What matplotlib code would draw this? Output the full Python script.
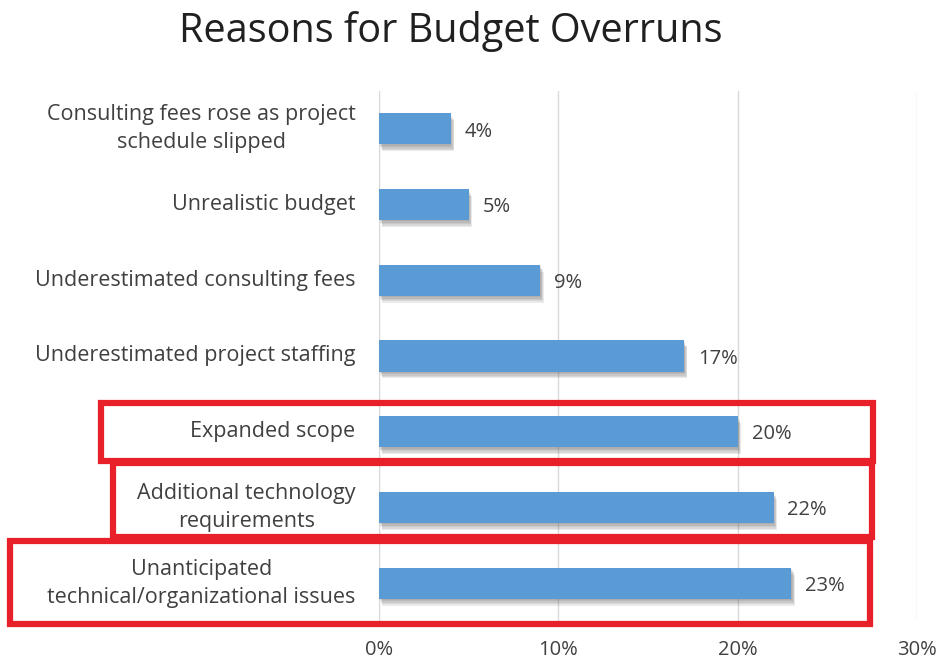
import matplotlib.pyplot as plt
import matplotlib.patheffects as pe
from matplotlib.patches import Rectangle
from matplotlib.ticker import PercentFormatter

plt.rcParams['font.family'] = ['Open Sans', 'DejaVu Sans']

# reasons listed top to bottom, share of projects in percent
reasons = [
    "Consulting fees rose as project\nschedule slipped",
    "Unrealistic budget",
    "Underestimated consulting fees",
    "Underestimated project staffing",
    "Expanded scope",
    "Additional technology\nrequirements",
    "Unanticipated\ntechnical/organizational issues",
]
shares = [4, 5, 9, 17, 20, 22, 23]
x_ticks = [0, 10, 20, 30]

bar_color = '#5B9BD5'
text_color = '#404040'
grid_color = '#D9D9D9'
box_color = '#E8202A'

W, H = 943, 662
fig = plt.figure(figsize=(W / 100, H / 100), dpi=100)
ax = fig.add_axes([379 / W, 1 - 621 / H, (917 - 379) / W, (621 - 91) / H])

ypos = list(range(len(reasons)))
bars = ax.barh(ypos, shares, height=0.41, color=bar_color, zorder=3)
# soft drop shadow built from a few faint offset copies
shadow = [pe.SimplePatchShadow(offset=(dx, -dy), shadow_rgbFace='#606060', alpha=0.13)
          for dx, dy in [(0.5, 1), (1, 2), (1.5, 3), (2, 4), (2.5, 5)]]
for b in bars:
    b.set_path_effects(shadow + [pe.Normal()])

for y, v in zip(ypos, shares):
    ax.annotate(f"{v}%", (v, y), xytext=(10, -2), textcoords='offset points',
                va='center', ha='left', fontsize=14.5, color=text_color)

ax.set_xlim(0, 30)
ax.set_ylim(len(reasons) - 0.5, -0.5)
ax.set_xticks(x_ticks)
ax.xaxis.set_major_formatter(PercentFormatter(decimals=0))
ax.set_yticks(ypos)
ax.set_yticklabels(reasons, fontsize=15.5, color=text_color, ha='right',
                   multialignment='center', linespacing=1.45)
for lbl in ax.get_yticklabels():
    lbl.set_va('center')
ax.tick_params(axis='y', length=0, pad=17)
ax.tick_params(axis='x', length=0, pad=14, labelsize=14.5, labelcolor=text_color)
ax.grid(axis='x', color=grid_color, linewidth=1, zorder=0)
for s in ['top', 'right', 'bottom']:
    ax.spines[s].set_visible(False)
ax.spines['left'].set_color(grid_color)

fig.text(0.478, 1 - 32 / H, "Reasons for Budget Overruns", ha='center', va='center',
         fontsize=28.5, color='#202020')

# red outlines around the top three reasons
boxes = [(101, 403, 873, 461), (113, 463, 872, 537), (10, 541, 870, 624)]
for x0, y0, x1, y1 in boxes:
    fig.patches.append(Rectangle((x0 / W, 1 - y1 / H), (x1 - x0) / W, (y1 - y0) / H,
                                 transform=fig.transFigure, fill=False,
                                 edgecolor=box_color, linewidth=4.5, zorder=5))

fig.savefig('out.png', dpi=100)
